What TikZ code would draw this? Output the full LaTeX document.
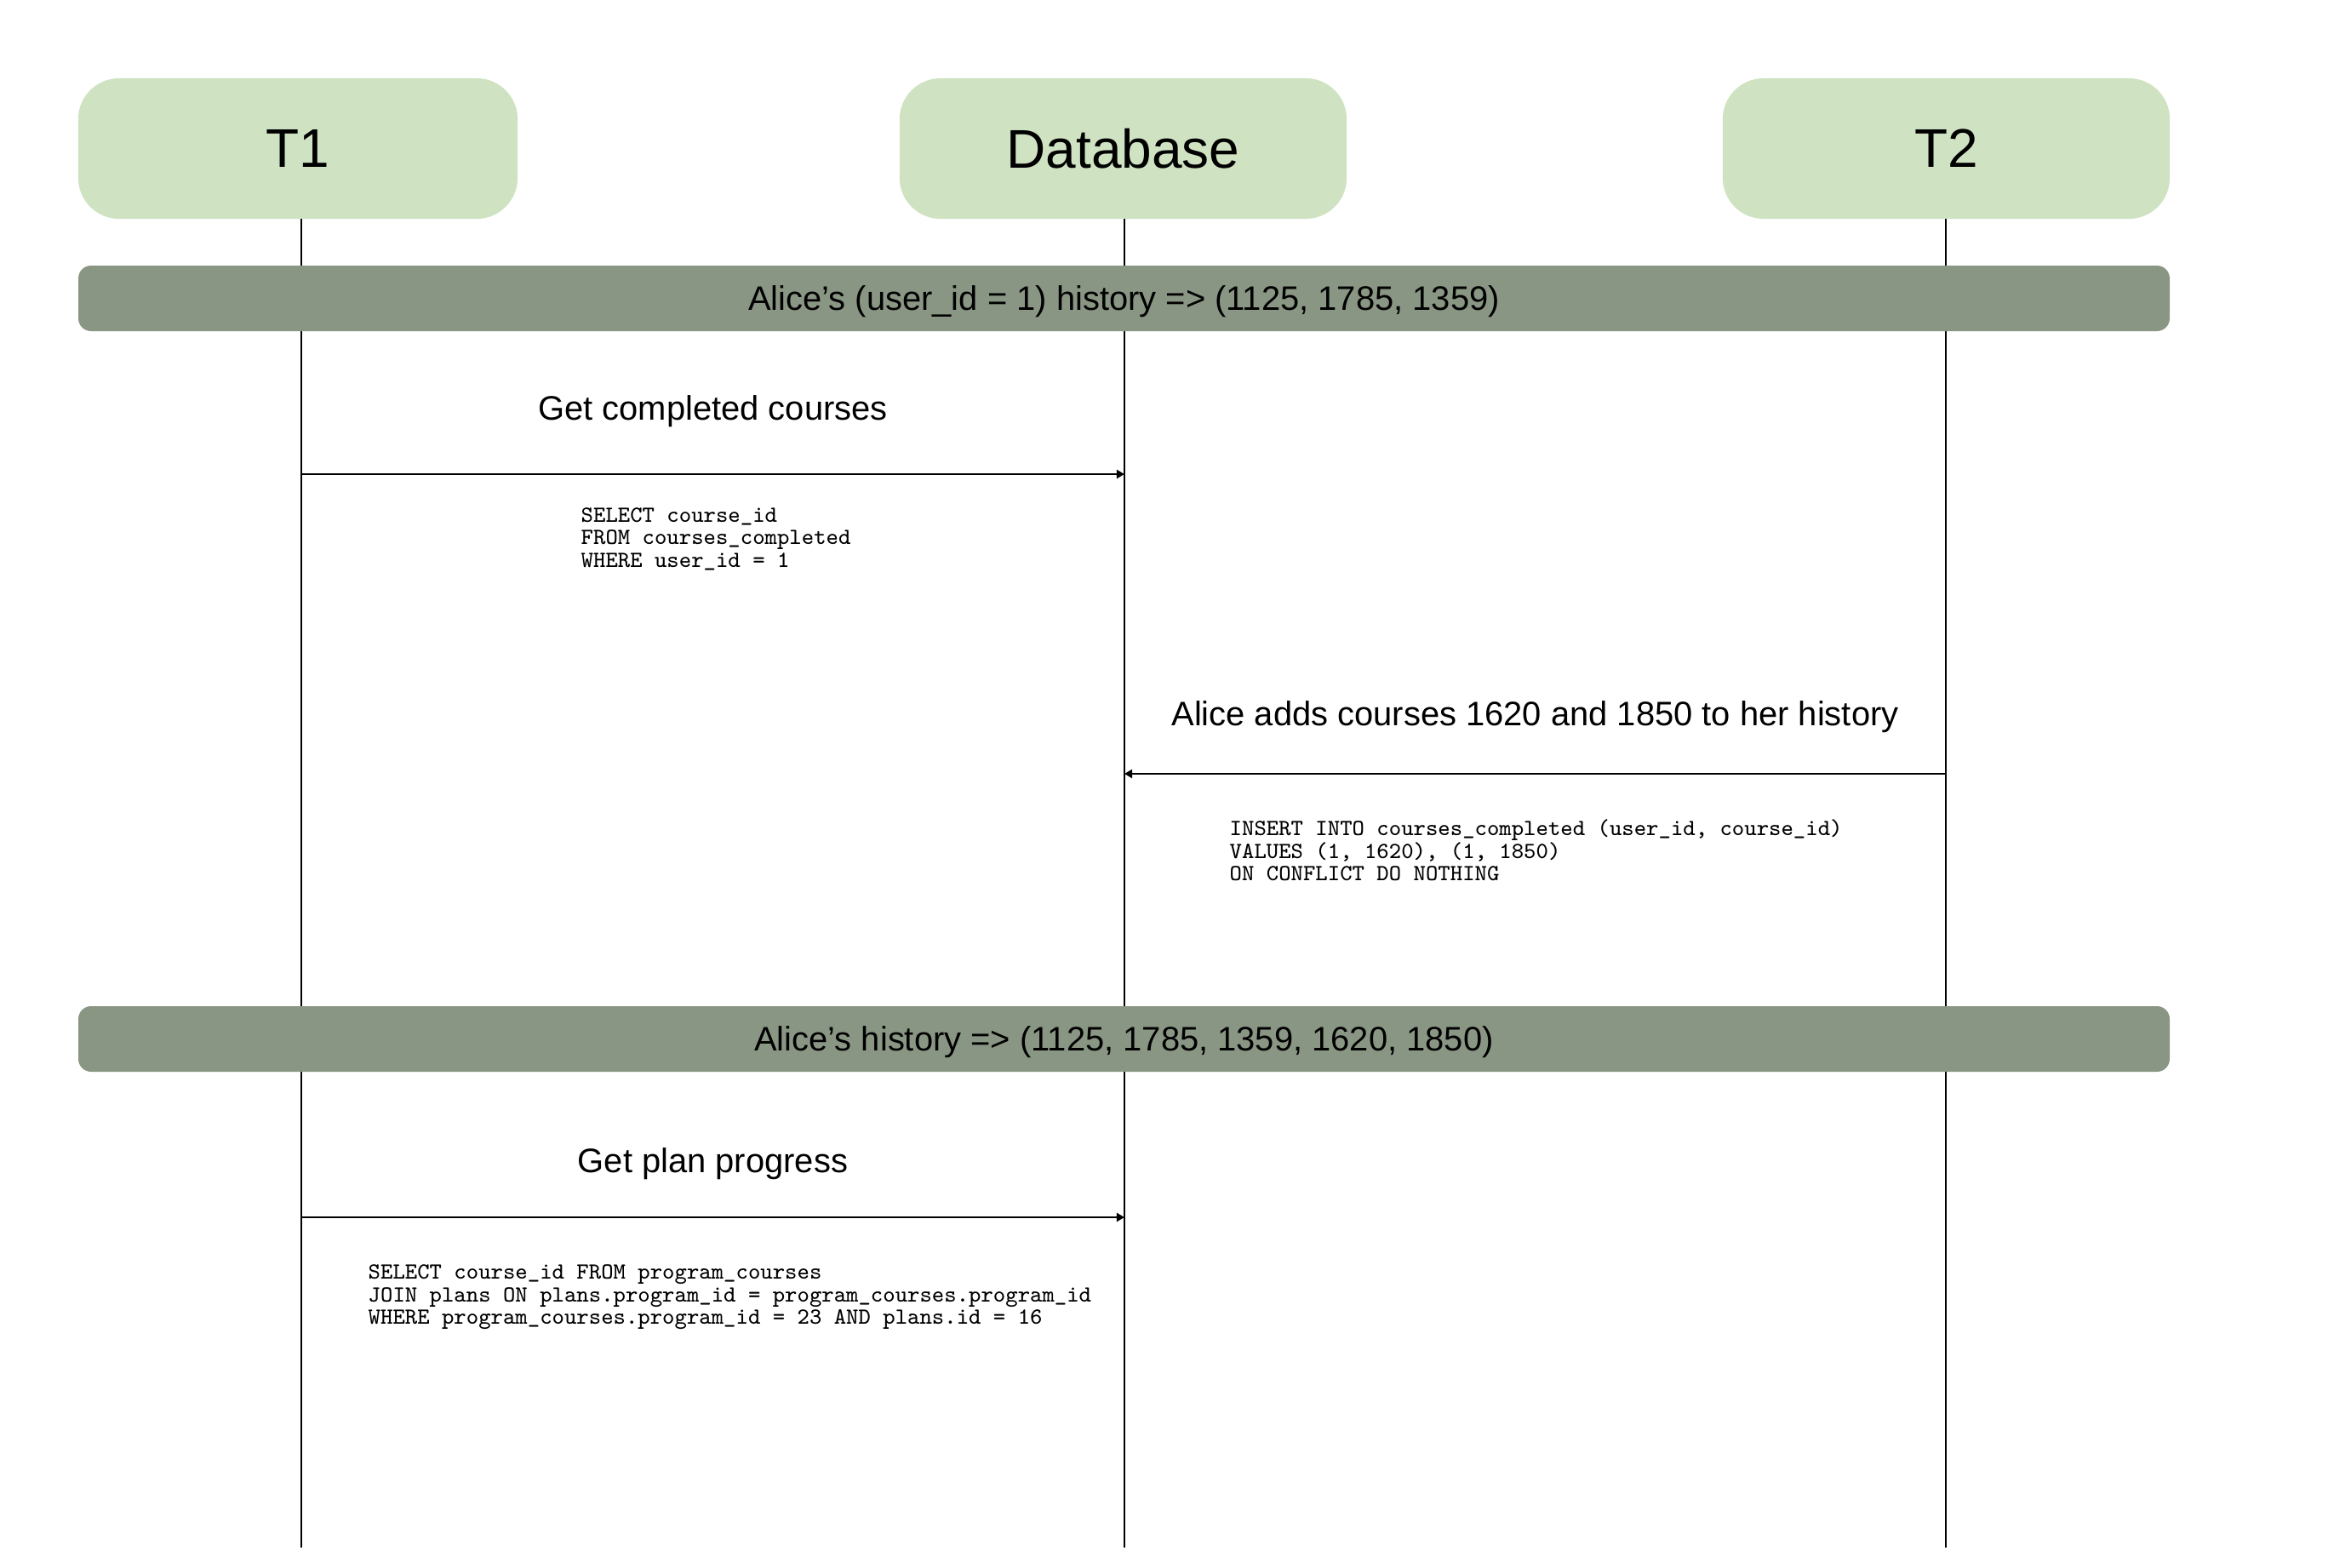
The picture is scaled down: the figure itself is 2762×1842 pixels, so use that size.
\documentclass[tikz,border=0pt]{standalone}
\usepackage{fontspec}
\setmainfont{Liberation Sans}
\usetikzlibrary{arrows.meta}
\definecolor{headgreen}{RGB}{207,227,195}
\definecolor{bandgray}{RGB}{138,150,132}
\begin{document}
\begin{tikzpicture}[x=0.01cm,y=-0.01cm,
  header/.style={fill=headgreen,rounded corners=0.48cm,minimum height=1.65cm,inner sep=0pt,font=\fontsize{18.2}{22}\selectfont},
  band/.style={fill=bandgray,rounded corners=0.15cm,inner sep=0pt},
  bandtext/.style={font=\fontsize{11.35}{13.6}\selectfont,inner sep=0pt},
  lifeline/.style={line width=0.57pt},
  msg/.style={line width=0.57pt,-{Triangle[length=2.6pt,width=2.9pt]}},
  msglabel/.style={font=\fontsize{11.35}{13.6}\selectfont,inner sep=0pt},
  sql/.style={font=\ttfamily\fontsize{7.71}{7.51}\selectfont,align=left,anchor=west,inner sep=0pt}
]
\useasboundingbox (0,0) rectangle (2762,1842);
% headers
\node[header,minimum width=5.16cm] (T1) at (350,174.5) {T1};
\node[header,minimum width=5.25cm] (DB) at (1319.5,174.5) {Database};
\node[header,minimum width=5.25cm] (T2) at (2286.5,174.5) {T2};
% lifeline ends
\coordinate (T1top) at (354,257);
\coordinate (DBtop) at (1321,257);
\coordinate (T2top) at (2286,257);
\coordinate (T1end) at (354,1818);
\coordinate (DBend) at (1321,1818);
\coordinate (T2end) at (2286,1818);
\draw[lifeline] (T1top) -- (T1end);
\draw[lifeline] (DBtop) -- (DBend);
\draw[lifeline] (T2top) -- (T2end);
% bands
\path[band] (92,312) rectangle (2549,389);
\node[bandtext] (band1) at (1320.5,354) {Alice’s (user\_id = 1) history => (1125, 1785, 1359)};
\path[band] (92,1182) rectangle (2549,1259);
\node[bandtext] (band2) at (1320.5,1224) {Alice’s history => (1125, 1785, 1359, 1620, 1850)};
% message 1
\coordinate (m1s) at (354,557);
\coordinate (m1e) at (1321,557);
\draw[msg] (m1s) -- (m1e);
\node[msglabel] (l1) at (837.5,483) {Get completed courses};
\node[sql] (q1) at (682,633) {SELECT course\_id\\FROM courses\_completed\\WHERE user\_id = 1};
% message 2
\coordinate (m2s) at (2286,909);
\coordinate (m2e) at (1321,909);
\draw[msg] (m2s) -- (m2e);
\node[msglabel] (l2) at (1803.5,842) {Alice adds courses 1620 and 1850 to her history};
\node[sql] (q2) at (1444,999) {INSERT INTO courses\_completed (user\_id, course\_id)\\VALUES (1, 1620), (1, 1850)\\ON CONFLICT DO NOTHING};
% message 3
\coordinate (m3s) at (354,1430);
\coordinate (m3e) at (1321,1430);
\draw[msg] (m3s) -- (m3e);
\node[msglabel] (l3) at (837.5,1367) {Get plan progress};
\node[sql] (q3) at (432,1524) {SELECT course\_id FROM program\_courses\\JOIN plans ON plans.program\_id = program\_courses.program\_id\\WHERE program\_courses.program\_id = 23 AND plans.id = 16};
\end{tikzpicture}
\end{document}
